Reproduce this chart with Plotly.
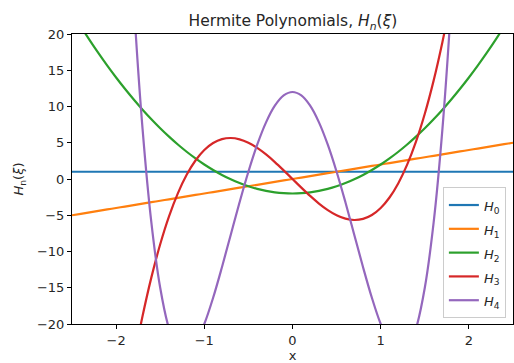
import plotly.graph_objects as go

# Sample points (x in steps of 0.1)
x = [-2.5, -2.4, -2.3, -2.2, -2.1, -2.0, -1.9, -1.8, -1.7, -1.6, -1.5, -1.4, -1.3, -1.2, -1.1,
     -1.0, -0.9, -0.8, -0.7, -0.6, -0.5, -0.4, -0.3, -0.2, -0.1, 0.0, 0.1, 0.2, 0.3, 0.4, 0.5,
     0.6, 0.7, 0.8, 0.9, 1.0, 1.1, 1.2, 1.3, 1.4, 1.5, 1.6, 1.7, 1.8, 1.9, 2.0, 2.1, 2.2, 2.3,
     2.4, 2.5]

h0 = [1.0] * 51

h1 = [-5.0, -4.8, -4.6, -4.4, -4.2, -4.0, -3.8, -3.6, -3.4, -3.2, -3.0, -2.8, -2.6, -2.4, -2.2,
      -2.0, -1.8, -1.6, -1.4, -1.2, -1.0, -0.8, -0.6, -0.4, -0.2, 0.0, 0.2, 0.4, 0.6, 0.8, 1.0,
      1.2, 1.4, 1.6, 1.8, 2.0, 2.2, 2.4, 2.6, 2.8, 3.0, 3.2, 3.4, 3.6, 3.8, 4.0, 4.2, 4.4, 4.6,
      4.8, 5.0]

h2 = [23.0, 21.04, 19.16, 17.36, 15.64, 14.0, 12.44, 10.96, 9.56, 8.24, 7.0, 5.84, 4.76, 3.76,
      2.84, 2.0, 1.24, 0.56, -0.04, -0.56, -1.0, -1.36, -1.64, -1.84, -1.96, -2.0, -1.96, -1.84,
      -1.64, -1.36, -1.0, -0.56, -0.04, 0.56, 1.24, 2.0, 2.84, 3.76, 4.76, 5.84, 7.0, 8.24, 9.56,
      10.96, 12.44, 14.0, 15.64, 17.36, 19.16, 21.04, 23.0]

h3 = [-95.0, -81.792, -69.736, -58.784, -48.888, -40.0, -32.072, -25.056, -18.904, -13.568,
      -9.0, -5.152, -1.976, 0.576, 2.552, 4.0, 4.968, 5.504, 5.656, 5.472, 5.0, 4.288, 3.384,
      2.336, 1.192, 0.0, -1.192, -2.336, -3.384, -4.288, -5.0, -5.472, -5.656, -5.504, -4.968,
      -4.0, -2.552, -0.576, 1.976, 5.152, 9.0, 13.568, 18.904, 25.056, 32.072, 40.0, 48.888,
      58.784, 69.736, 81.792, 95.0]

h4 = [337.0, 266.362, 205.826, 154.490, 111.490, 76.0, 47.234, 24.442, 6.914, -6.022, -15.0,
      -20.614, -23.422, -23.942, -22.654, -20.0, -16.382, -12.166, -7.678, -3.206, 1.0, 4.730,
      7.810, 10.106, 11.522, 12.0, 11.522, 10.106, 7.810, 4.730, 1.0, -3.206, -7.678, -12.166,
      -16.382, -20.0, -22.654, -23.942, -23.422, -20.614, -15.0, -6.022, 6.914, 24.442, 47.234,
      76.0, 111.490, 154.490, 205.826, 266.362, 337.0]

labels = ["0", "1", "2", "3", "4"]
series = [h0, h1, h2, h3, h4]
colors = ["#1f77b4", "#ff7f0e", "#2ca02c", "#d62728", "#9467bd"]

FONT = "DejaVu Sans, Arial, sans-serif"

fig = go.Figure()
for lab, ys, c in zip(labels, series, colors):
    name = f'<span style="font-size:13px"><i>H</i><sub>{lab}</sub></span>'
    fig.add_trace(go.Scatter(x=x, y=ys, mode="lines", name=name,
                             line=dict(color=c, width=2.2, shape="spline", smoothing=1.0)))

fig.update_layout(
    width=514, height=363,
    margin=dict(l=72, r=1, t=34, b=39),
    paper_bgcolor="white", plot_bgcolor="white",
    font=dict(family=FONT, size=13, color="#262626"),
    title=dict(text="Hermite Polynomials, <i>H</i><sub><i>n</i></sub>(<i>ξ</i>)",
               x=(293 / 514), xanchor="center", y=1 - 21 / 363, yanchor="middle",
               font=dict(size=15.5, color="#262626")),
    showlegend=True,
    legend=dict(x=0.841, y=0.472, xanchor="left", yanchor="top",
                bgcolor="rgba(255,255,255,0.8)", bordercolor="#cccccc", borderwidth=1,
                font=dict(size=16), tracegroupgap=0, itemwidth=30),
)
fig.update_xaxes(range=[-2.5, 2.5], tickvals=[-2, -1, 0, 1, 2], showgrid=False, zeroline=False,
                 showline=True, linecolor="black", linewidth=1, mirror=True,
                 ticks="outside", ticklen=4, tickcolor="black", automargin=False,
                 title=dict(text="x", standoff=6, font=dict(size=13)))
fig.update_yaxes(range=[-20, 20], tickvals=[-20, -15, -10, -5, 0, 5, 10, 15, 20], showgrid=False,
                 zeroline=False, showline=True, linecolor="black", linewidth=1, mirror=True,
                 ticks="outside", ticklen=4, tickcolor="black", automargin=False,
                 title=dict(text="<i>H</i><sub>n</sub>(<i>ξ</i>)", standoff=10, font=dict(size=13)))

fig.write_html("out.html")
